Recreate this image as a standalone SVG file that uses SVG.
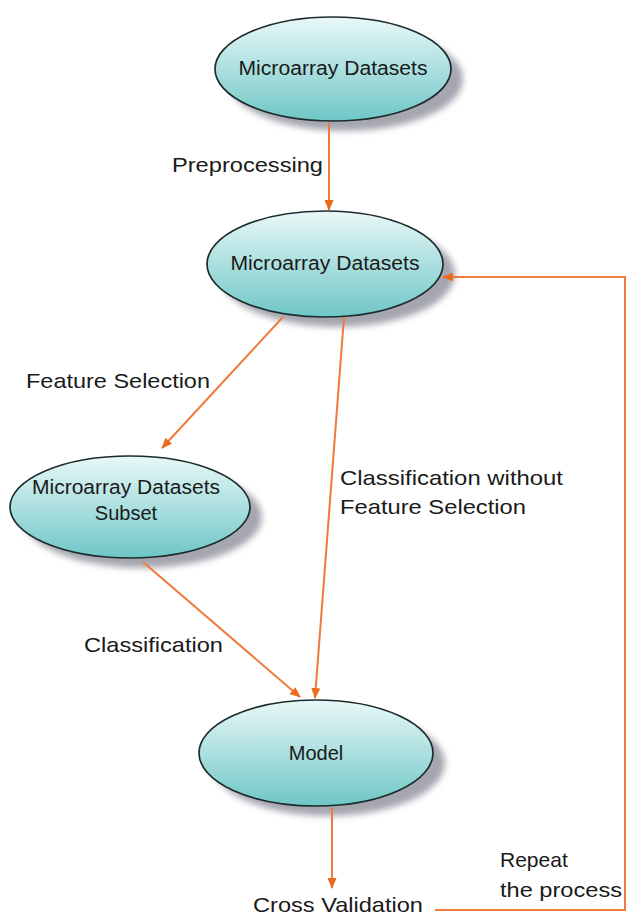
<svg xmlns="http://www.w3.org/2000/svg" width="627" height="916" viewBox="0 0 627 916">
<style>
.node{fill:url(#g);stroke:#1c2b2b;stroke-width:1.7}
.sh{fill:#a6a6b0;filter:url(#blur)}
.nt{font-family:"Liberation Sans",Arial,sans-serif;font-size:20px;fill:#1a1a1a;text-anchor:middle}
.lb{font-family:"Liberation Sans",Arial,sans-serif;font-size:21px;fill:#1a1a1a}
.c{fill:none;stroke:#ef7a3c;stroke-width:2;marker-end:url(#ah)}
</style>
<defs>
<linearGradient id="g" x1="0" y1="0" x2="0" y2="1">
<stop offset="0" stop-color="#e9f8f8"/>
<stop offset="1" stop-color="#6fc6c6"/>
</linearGradient>
<filter id="blur" x="-20%" y="-20%" width="140%" height="140%"><feGaussianBlur stdDeviation="3"/></filter>
<marker id="ah" viewBox="0 0 12 10" refX="11" refY="5" markerWidth="13" markerHeight="9" markerUnits="userSpaceOnUse" orient="auto">
<path d="M0,0 L12,5 L0,10 Z" fill="#ec6a1e"/>
</marker>
</defs>
<rect width="627" height="916" fill="#ffffff"/>
<g id="n1">
<ellipse class="sh" cx="345" cy="79" rx="118" ry="52"/>
<ellipse class="node" cx="333" cy="69" rx="118" ry="52"/>
<text class="nt" x="333" y="75" textLength="189" lengthAdjust="spacingAndGlyphs">Microarray Datasets</text>
</g>
<g id="n2">
<ellipse class="sh" cx="337" cy="274" rx="118" ry="53"/>
<ellipse class="node" cx="325" cy="264" rx="118" ry="53"/>
<text class="nt" x="325" y="270" textLength="189" lengthAdjust="spacingAndGlyphs">Microarray Datasets</text>
</g>
<g id="n3">
<ellipse class="sh" cx="142" cy="517" rx="120" ry="51"/>
<ellipse class="node" cx="130" cy="507" rx="120" ry="51"/>
<text class="nt" x="126" y="494" textLength="188" lengthAdjust="spacingAndGlyphs">Microarray Datasets</text>
<text class="nt" x="126" y="520">Subset</text>
</g>
<g id="n4">
<ellipse class="sh" cx="328" cy="763" rx="117" ry="53"/>
<ellipse class="node" cx="316" cy="753" rx="117" ry="53"/>
<text class="nt" x="316" y="760">Model</text>
</g>
<g id="connectors">
<line class="c" x1="329" y1="123" x2="329" y2="210"/>
<line class="c" x1="283" y1="317" x2="162" y2="448"/>
<line class="c" x1="344" y1="317" x2="315" y2="698"/>
<line class="c" x1="143" y1="562" x2="300" y2="697"/>
<line class="c" x1="332" y1="808" x2="332" y2="888"/>
<polyline class="c" points="435,910 625,910 625,277 443,277"/>
</g>
<g id="labels">
<text class="lb" x="172" y="172" textLength="151" lengthAdjust="spacingAndGlyphs">Preprocessing</text>
<text class="lb" x="26" y="388" textLength="184" lengthAdjust="spacingAndGlyphs">Feature Selection</text>
<text class="lb" x="340" y="485" textLength="223" lengthAdjust="spacingAndGlyphs">Classification without</text>
<text class="lb" x="340" y="514" textLength="186" lengthAdjust="spacingAndGlyphs">Feature Selection</text>
<text class="lb" x="84" y="652" textLength="139" lengthAdjust="spacingAndGlyphs">Classification</text>
<text class="lb" x="253" y="912" textLength="170" lengthAdjust="spacingAndGlyphs">Cross Validation</text>
<text class="lb" x="500" y="867">Repeat</text>
<text class="lb" x="500" y="897" textLength="122" lengthAdjust="spacingAndGlyphs">the process</text>
</g>
</svg>
